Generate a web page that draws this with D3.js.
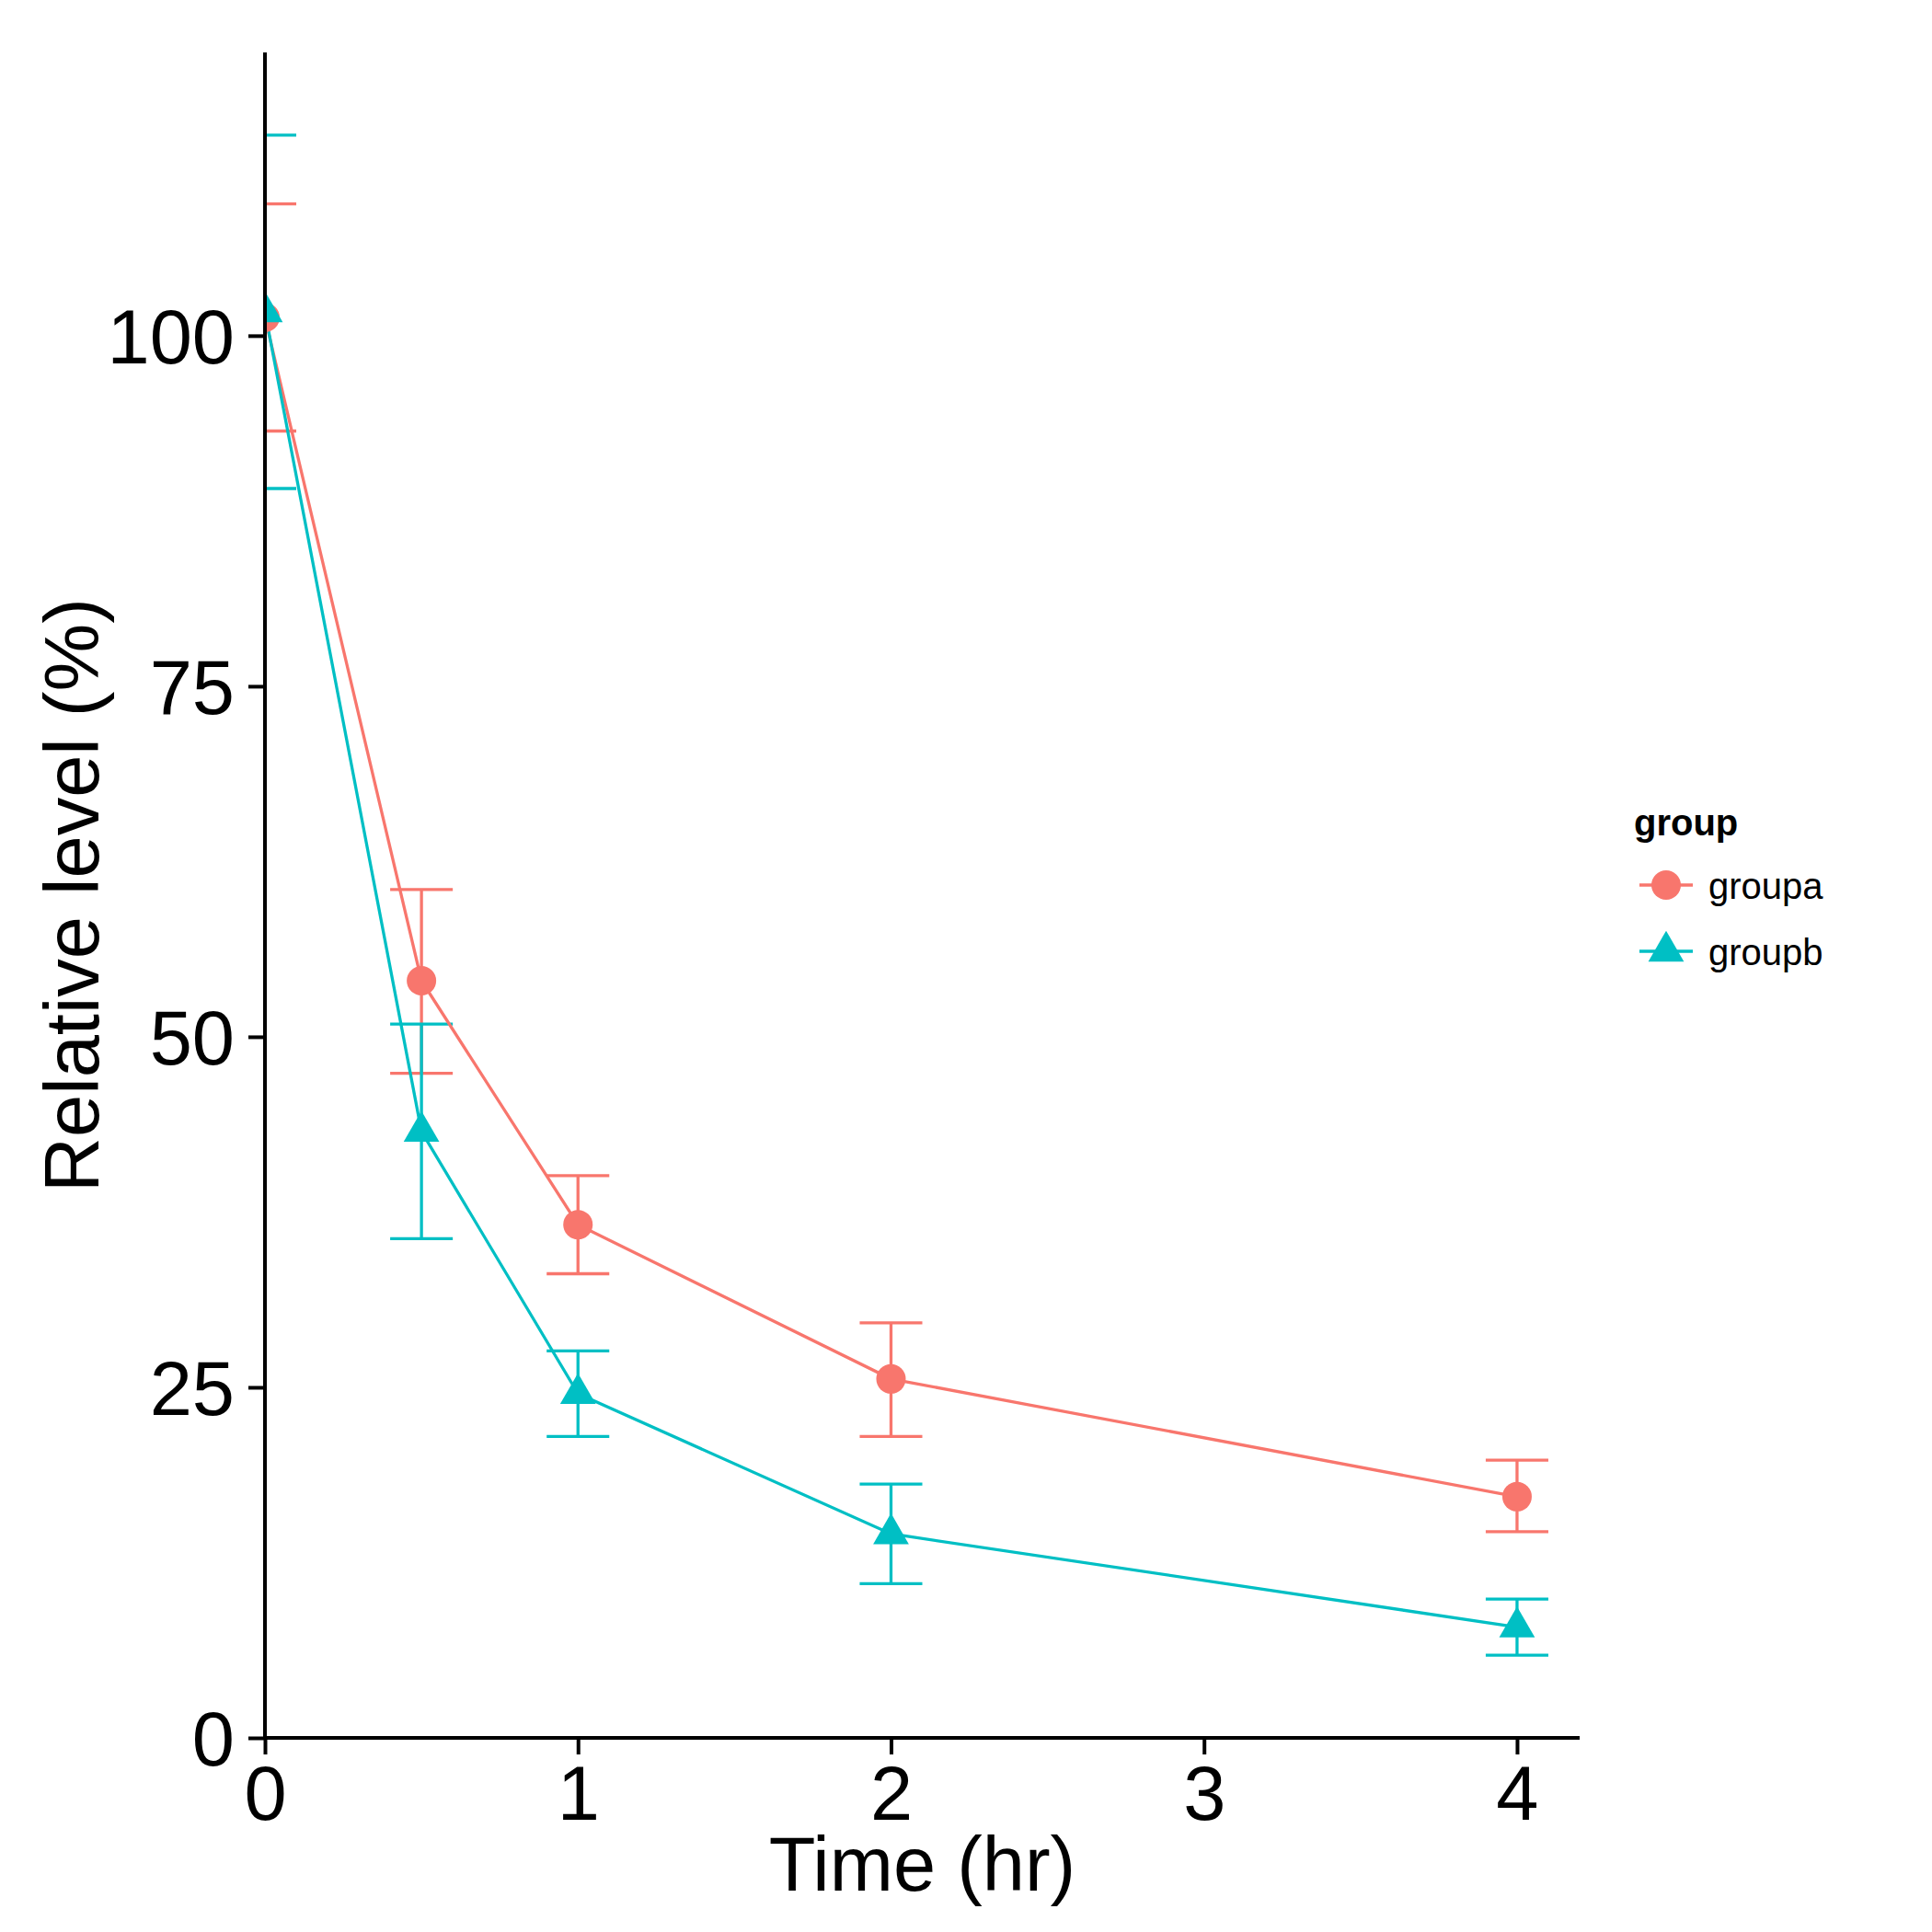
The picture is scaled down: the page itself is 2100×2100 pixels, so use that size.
<!DOCTYPE html>
<html>
<head>
<meta charset="utf-8">
<script src="https://cdn.jsdelivr.net/npm/d3@7"></script>
<style>
  html, body { margin: 0; padding: 0; background: #ffffff; }
  svg { display: block; }
  text { font-family: "Liberation Sans", Arial, Helvetica, sans-serif; }
</style>
</head>
<body>
<script>
// ---- data ----
const times = [0, 0.5, 1, 2, 4];
const groupNames = ["groupa", "groupb"];
const groupaMean = [101.3, 54.0, 36.6, 25.6, 17.2];
const groupaLow  = [93.2, 47.4, 33.1, 21.5, 14.7];
const groupaHigh = [109.4, 60.5, 40.1, 29.6, 19.8];
const groupbMean = [101.7, 43.25, 24.55, 14.55, 7.9];
const groupbLow  = [89.1, 35.6, 21.5, 11.0, 5.9];
const groupbHigh = [114.3, 50.9, 27.6, 18.1, 9.9];
const xTicks = [0, 1, 2, 3, 4];
const yTicks = [0, 25, 50, 75, 100];
const xTitle = "Time (hr)";
const yTitle = "Relative level (%)";
const legendTitle = "group";
const colors = ["#F8766D", "#00BFC4"];

(function () {
const series = [
  { name: groupNames[0], color: colors[0], shape: "circle",
    pts: times.map((t, i) => ({ t, m: groupaMean[i], lo: groupaLow[i], hi: groupaHigh[i] })) },
  { name: groupNames[1], color: colors[1], shape: "triangle",
    pts: times.map((t, i) => ({ t, m: groupbMean[i], lo: groupbLow[i], hi: groupbHigh[i] })) }
];

// ---- layout ----
const W = 2100, H = 2100;
const pL = 288, pR = 1717, pT = 57, pB = 1889;
const x = d3.scaleLinear().domain([0, 4.2]).range([pL, pR]);
const y = d3.scaleLinear().domain([0, 120.2]).range([pB, pT]);

const svg = d3.select("body").append("svg").attr("width", W).attr("height", H);
svg.append("rect").attr("width", W).attr("height", H).attr("fill", "#ffffff");

svg.append("defs").append("clipPath").attr("id", "panelclip")
  .append("rect").attr("x", pL).attr("y", pT)
  .attr("width", pR - pL).attr("height", pB - pT);

const panel = svg.append("g").attr("clip-path", "url(#panelclip)");

const capHalf = (x(0.1) - x(0));
const lw = 3.3;

// error bars
series.forEach(s => {
  const g = panel.append("g").attr("stroke", s.color).attr("stroke-width", lw).attr("fill", "none");
  s.pts.forEach(p => {
    g.append("line").attr("x1", x(p.t)).attr("x2", x(p.t)).attr("y1", y(p.lo)).attr("y2", y(p.hi));
    g.append("line").attr("x1", x(p.t) - capHalf).attr("x2", x(p.t) + capHalf).attr("y1", y(p.lo)).attr("y2", y(p.lo));
    g.append("line").attr("x1", x(p.t) - capHalf).attr("x2", x(p.t) + capHalf).attr("y1", y(p.hi)).attr("y2", y(p.hi));
  });
});

// lines
const line = d3.line().x(d => x(d.t)).y(d => y(d.m));
series.forEach(s => {
  panel.append("path").datum(s.pts).attr("d", line)
    .attr("fill", "none").attr("stroke", s.color).attr("stroke-width", lw);
});

// points
const triSym = d3.symbol().type(d3.symbolTriangle).size(650);
series.forEach(s => {
  s.pts.forEach(p => {
    if (s.shape === "circle") {
      panel.append("circle").attr("cx", x(p.t)).attr("cy", y(p.m)).attr("r", 16).attr("fill", s.color);
    } else {
      panel.append("path").attr("d", triSym()).attr("transform", `translate(${x(p.t)},${y(p.m)})`).attr("fill", s.color);
    }
  });
});

// axes
const xAxis = d3.axisBottom(x).tickValues(xTicks).tickSize(18).tickPadding(12).tickFormat(d3.format("d"));
const yAxis = d3.axisLeft(y).tickValues(yTicks).tickSize(18).tickPadding(15).tickFormat(d3.format("d"));

const gx = svg.append("g").attr("transform", `translate(0,${pB})`).call(xAxis);
const gy = svg.append("g").attr("transform", `translate(${pL},0)`).call(yAxis);
[gx, gy].forEach(g => {
  g.select(".domain").remove();
  g.selectAll(".tick line").attr("stroke", "#000").attr("stroke-width", 4);
  g.selectAll(".tick text").attr("fill", "#000").style("font-size", "83px")
    .style("font-family", '"Liberation Sans", Arial, sans-serif');
});
gx.selectAll(".tick text").attr("dy", "0.71em");
gy.selectAll(".tick text").attr("dy", "0.36em");

svg.append("line").attr("x1", pL).attr("x2", pR).attr("y1", pB).attr("y2", pB)
  .attr("stroke", "#000").attr("stroke-width", 4);
svg.append("line").attr("x1", pL).attr("x2", pL).attr("y1", pT).attr("y2", pB + 2)
  .attr("stroke", "#000").attr("stroke-width", 4);

// axis titles
svg.append("text").attr("x", (pL + pR) / 2).attr("y", 2055)
  .attr("text-anchor", "middle").style("font-size", "83px").attr("fill", "#000").text(xTitle);
svg.append("text").attr("transform", `translate(107,${(pT + pB) / 2}) rotate(-90)`)
  .attr("text-anchor", "middle").style("font-size", "83px").attr("fill", "#000").text(yTitle);

// legend
const lg = svg.append("g");
lg.append("text").attr("x", 1776).attr("y", 908).style("font-size", "40px")
  .style("font-weight", "bold").attr("fill", "#000").text(legendTitle);
const rowY = [962, 1034];
series.forEach((s, i) => {
  const cy = rowY[i];
  lg.append("line").attr("x1", 1782).attr("x2", 1840).attr("y1", cy).attr("y2", cy)
    .attr("stroke", s.color).attr("stroke-width", lw);
  if (s.shape === "circle") {
    lg.append("circle").attr("cx", 1811).attr("cy", cy).attr("r", 16).attr("fill", s.color);
  } else {
    lg.append("path").attr("d", triSym()).attr("transform", `translate(1811,${cy})`).attr("fill", s.color);
  }
  lg.append("text").attr("x", 1857).attr("y", cy + 15).style("font-size", "40px")
    .attr("fill", "#000").text(s.name);
});
})();
</script>
</body>
</html>
